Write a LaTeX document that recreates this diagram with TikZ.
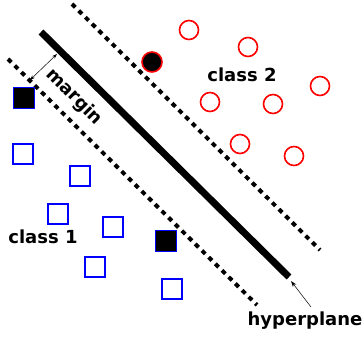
\documentclass[tikz,border=0pt]{standalone}
\usepackage{fontspec}
\setmainfont{DejaVu Sans}
\usetikzlibrary{arrows.meta}
\begin{document}
\begin{tikzpicture}[x=1pt,y=-1pt,
  cls2/.style={circle,draw=red,line width=1.6pt,minimum size=19pt,inner sep=0pt},
  cls2sv/.style={circle,draw=red,fill=black,line width=1.6pt,minimum size=20pt,inner sep=0pt},
  cls1/.style={rectangle,draw=blue,line width=1.9pt,minimum size=20pt,inner sep=0pt},
  cls1sv/.style={rectangle,draw=blue,fill=black,line width=1.9pt,minimum size=21pt,inner sep=0pt},
  lbl/.style={font=\fontsize{18}{20}\selectfont\bfseries,inner sep=0pt},
  dotline/.style={line width=4pt,dash pattern=on 4.7pt off 4.7pt},
  thin/.style={line width=0.5pt,{Stealth[length=5pt,width=3.5pt]}-{Stealth[length=5pt,width=3.5pt]}}]
\useasboundingbox (0,0) rectangle (362,337);
% lines
\coordinate (h1) at (41,32);
\coordinate (h2) at (289,277);
\coordinate (u1) at (72,4);
\coordinate (u2) at (320,250);
\coordinate (l1) at (8,59);
\coordinate (l2) at (257,305);
\draw[line width=7pt] (h1) -- (h2);
\draw[dotline] (u1) -- (u2);
\draw[dotline] (l1) -- (l2);
% class 2
\node[cls2] (c1) at (189,30) {};
\node[cls2] (c2) at (248,47) {};
\node[cls2] (c3) at (320,86) {};
\node[cls2] (c4) at (210,102) {};
\node[cls2] (c5) at (273,104) {};
\node[cls2] (c6) at (240,144) {};
\node[cls2] (c7) at (294,156) {};
\node[cls2sv] (cs) at (152,62) {};
% class 1
\node[cls1sv] (s1) at (24,98) {};
\node[cls1] (s2) at (23,154) {};
\node[cls1] (s3) at (80,176) {};
\node[cls1] (s4) at (58,214) {};
\node[cls1] (s5) at (113,227) {};
\node[cls1sv] (s6) at (166,241) {};
\node[cls1] (s7) at (95,267) {};
\node[cls1] (s8) at (172,289) {};
% labels
\node[lbl] (t2) at (242,75) {class 2};
\node[lbl] (t1) at (43,237) {class 1};
\node[lbl,rotate=-45] (tm) at (74,97) {margin};
\node[lbl,anchor=north] (th) at (305,312) {hyperplane};
% margin arrow
\coordinate (m1) at (30,80);
\coordinate (m2) at (57,54);
\draw[thin] (m1) -- (m2);
% hyperplane arrow
\coordinate (ha) at (291,281);
\coordinate (hb) at (311,307);
\draw[line width=0.5pt,-{Stealth[length=6pt,width=4pt]}] (hb) -- (ha);
\end{tikzpicture}
\end{document}
